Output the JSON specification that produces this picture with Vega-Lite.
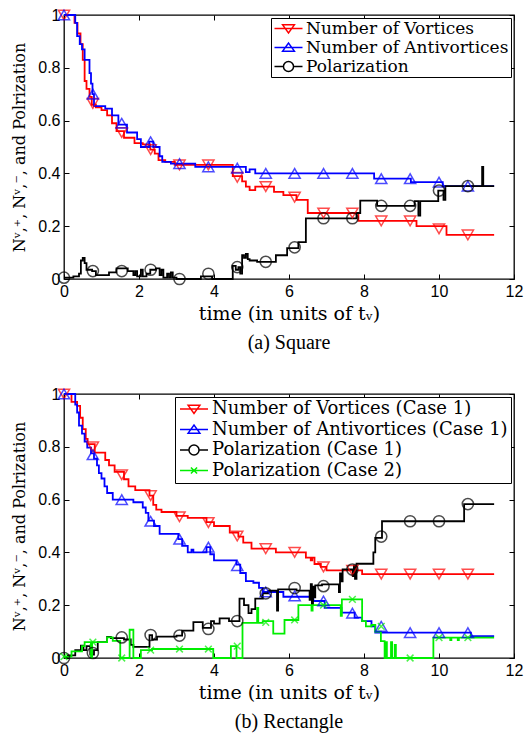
{
"$schema": "https://vega.github.io/schema/vega-lite/v6.json",
"padding": {"left": 11, "top": 6, "right": 3, "bottom": 2},
"config": {
  "view": {"stroke": "black", "strokeWidth": 1.3},
  "axis": {"grid": false, "domain": false, "tickColor": "black", "tickWidth": 1, "tickSize": -5, "labelColor": "black", "labelFont": "Liberation Sans", "labelFontSize": 16, "labelPadding": 9, "labelFlush": false, "labelOverlap": false, "labelBound": false, "titleFont": "DejaVu Serif", "titleFontSize": 16, "titleFontWeight": "normal", "titleColor": "black"},
  "legend": {"title": null, "orient": "top-right", "offset": 3, "labelFont": "DejaVu Serif", "labelFontSize": 18, "labelColor": "black", "symbolSize": 196, "symbolStrokeWidth": 1.5, "strokeColor": "black", "fillColor": "white", "padding": 3, "labelLimit": 500, "labelOffset": 16, "cornerRadius": 0},
  "title": {"font": "Liberation Serif", "fontSize": 20, "fontWeight": "normal", "color": "black"},
  "point": {"filled": false, "strokeWidth": 1.5, "size": 125}
},
"datasets": {
  "topLines": [
    {"s":"Number of Vortices","t":0,"v":1.0},{"s":"Number of Vortices","t":0.28,"v":0.97},{"s":"Number of Vortices","t":0.36,"v":0.93},{"s":"Number of Vortices","t":0.44,"v":0.89},{"s":"Number of Vortices","t":0.5,"v":0.83},{"s":"Number of Vortices","t":0.55,"v":0.75},{"s":"Number of Vortices","t":0.6,"v":0.72},{"s":"Number of Vortices","t":0.68,"v":0.69},{"s":"Number of Vortices","t":0.74,"v":0.66},{"s":"Number of Vortices","t":0.85,"v":0.65},{"s":"Number of Vortices","t":1.0,"v":0.64},{"s":"Number of Vortices","t":1.15,"v":0.62},{"s":"Number of Vortices","t":1.28,"v":0.59},{"s":"Number of Vortices","t":1.4,"v":0.56},{"s":"Number of Vortices","t":1.6,"v":0.535},{"s":"Number of Vortices","t":1.88,"v":0.515},{"s":"Number of Vortices","t":2.1,"v":0.51},{"s":"Number of Vortices","t":2.3,"v":0.49},{"s":"Number of Vortices","t":2.42,"v":0.475},{"s":"Number of Vortices","t":2.52,"v":0.45},{"s":"Number of Vortices","t":2.7,"v":0.444},{"s":"Number of Vortices","t":2.95,"v":0.432},{"s":"Number of Vortices","t":4.5,"v":0.39},{"s":"Number of Vortices","t":4.75,"v":0.37},{"s":"Number of Vortices","t":4.85,"v":0.35},{"s":"Number of Vortices","t":4.95,"v":0.337},{"s":"Number of Vortices","t":5.1,"v":0.35},{"s":"Number of Vortices","t":5.6,"v":0.33},{"s":"Number of Vortices","t":5.85,"v":0.318},{"s":"Number of Vortices","t":6.2,"v":0.3},{"s":"Number of Vortices","t":6.5,"v":0.25},{"s":"Number of Vortices","t":7.85,"v":0.22},{"s":"Number of Vortices","t":9.4,"v":0.2},{"s":"Number of Vortices","t":10.2,"v":0.167},{"s":"Number of Vortices","t":11.47,"v":0.167},
    {"s":"Number of Antivortices","t":0,"v":1.0},{"s":"Number of Antivortices","t":0.3,"v":0.97},{"s":"Number of Antivortices","t":0.35,"v":0.92},{"s":"Number of Antivortices","t":0.42,"v":0.89},{"s":"Number of Antivortices","t":0.48,"v":0.87},{"s":"Number of Antivortices","t":0.55,"v":0.83},{"s":"Number of Antivortices","t":0.68,"v":0.78},{"s":"Number of Antivortices","t":0.72,"v":0.74},{"s":"Number of Antivortices","t":0.76,"v":0.7},{"s":"Number of Antivortices","t":0.8,"v":0.655},{"s":"Number of Antivortices","t":1.1,"v":0.645},{"s":"Number of Antivortices","t":1.28,"v":0.62},{"s":"Number of Antivortices","t":1.45,"v":0.585},{"s":"Number of Antivortices","t":1.68,"v":0.555},{"s":"Number of Antivortices","t":1.95,"v":0.53},{"s":"Number of Antivortices","t":2.05,"v":0.5},{"s":"Number of Antivortices","t":2.27,"v":0.52},{"s":"Number of Antivortices","t":2.38,"v":0.5},{"s":"Number of Antivortices","t":2.55,"v":0.465},{"s":"Number of Antivortices","t":2.62,"v":0.444},{"s":"Number of Antivortices","t":2.85,"v":0.437},{"s":"Number of Antivortices","t":3.5,"v":0.425},{"s":"Number of Antivortices","t":4.85,"v":0.405},{"s":"Number of Antivortices","t":4.95,"v":0.415},{"s":"Number of Antivortices","t":5.1,"v":0.4},{"s":"Number of Antivortices","t":8.27,"v":0.38},{"s":"Number of Antivortices","t":9.25,"v":0.367},{"s":"Number of Antivortices","t":10.1,"v":0.352},{"s":"Number of Antivortices","t":11.47,"v":0.352},
    {"s":"Polarization","t":0,"v":0.005},{"s":"Polarization","t":0.25,"v":0.01},{"s":"Polarization","t":0.4,"v":0.02},{"s":"Polarization","t":0.45,"v":0.07},{"s":"Polarization","t":0.5,"v":0.08},{"s":"Polarization","t":0.55,"v":0.06},{"s":"Polarization","t":0.6,"v":0.035},{"s":"Polarization","t":0.75,"v":0.03},{"s":"Polarization","t":0.85,"v":0.015},{"s":"Polarization","t":1.2,"v":0.025},{"s":"Polarization","t":1.4,"v":0.04},{"s":"Polarization","t":1.7,"v":0.03},{"s":"Polarization","t":1.85,"v":0.015},{"s":"Polarization","t":1.9,"v":0.03},{"s":"Polarization","t":1.95,"v":0.01},{"s":"Polarization","t":2.05,"v":0.035},{"s":"Polarization","t":2.1,"v":0.01},{"s":"Polarization","t":2.2,"v":0.02},{"s":"Polarization","t":2.3,"v":0.035},{"s":"Polarization","t":2.45,"v":0.04},{"s":"Polarization","t":2.55,"v":0.015},{"s":"Polarization","t":2.6,"v":0.035},{"s":"Polarization","t":2.65,"v":0.005},{"s":"Polarization","t":2.75,"v":0.02},{"s":"Polarization","t":2.8,"v":0.005},{"s":"Polarization","t":2.85,"v":0.025},{"s":"Polarization","t":2.9,"v":0.005},{"s":"Polarization","t":3.0,"v":0.0},{"s":"Polarization","t":3.65,"v":0.01},{"s":"Polarization","t":3.95,"v":0.0},{"s":"Polarization","t":4.5,"v":0.05},{"s":"Polarization","t":4.58,"v":0.035},{"s":"Polarization","t":4.65,"v":0.045},{"s":"Polarization","t":4.7,"v":0.02},{"s":"Polarization","t":4.75,"v":0.09},{"s":"Polarization","t":4.8,"v":0.08},{"s":"Polarization","t":4.85,"v":0.095},{"s":"Polarization","t":4.9,"v":0.075},{"s":"Polarization","t":4.95,"v":0.07},{"s":"Polarization","t":5.15,"v":0.065},{"s":"Polarization","t":5.65,"v":0.09},{"s":"Polarization","t":5.95,"v":0.117},{"s":"Polarization","t":6.25,"v":0.14},{"s":"Polarization","t":6.45,"v":0.23},{"s":"Polarization","t":7.8,"v":0.25},{"s":"Polarization","t":7.9,"v":0.297},{"s":"Polarization","t":8.35,"v":0.277},{"s":"Polarization","t":9.35,"v":0.295},{"s":"Polarization","t":9.45,"v":0.24},{"s":"Polarization","t":9.5,"v":0.295},{"s":"Polarization","t":9.98,"v":0.335},{"s":"Polarization","t":10.12,"v":0.3},{"s":"Polarization","t":10.17,"v":0.352},{"s":"Polarization","t":11.15,"v":0.425},{"s":"Polarization","t":11.18,"v":0.352},{"s":"Polarization","t":11.47,"v":0.352}
  ],
  "topMarkers": [
    {"series":"Number of Vortices","t":0,"v":1.0},{"series":"Number of Vortices","t":0.77,"v":0.665},{"series":"Number of Vortices","t":1.54,"v":0.555},{"series":"Number of Vortices","t":2.31,"v":0.49},{"series":"Number of Vortices","t":3.08,"v":0.432},{"series":"Number of Vortices","t":3.85,"v":0.432},{"series":"Number of Vortices","t":4.62,"v":0.385},{"series":"Number of Vortices","t":5.38,"v":0.35},{"series":"Number of Vortices","t":6.15,"v":0.31},{"series":"Number of Vortices","t":6.92,"v":0.25},{"series":"Number of Vortices","t":7.69,"v":0.25},{"series":"Number of Vortices","t":8.46,"v":0.22},{"series":"Number of Vortices","t":9.23,"v":0.22},{"series":"Number of Vortices","t":10.0,"v":0.19},{"series":"Number of Vortices","t":10.77,"v":0.167},
    {"series":"Number of Antivortices","t":0,"v":1.0},{"series":"Number of Antivortices","t":0.77,"v":0.7},{"series":"Number of Antivortices","t":1.54,"v":0.59},{"series":"Number of Antivortices","t":2.31,"v":0.52},{"series":"Number of Antivortices","t":3.08,"v":0.437},{"series":"Number of Antivortices","t":3.85,"v":0.425},{"series":"Number of Antivortices","t":4.62,"v":0.42},{"series":"Number of Antivortices","t":5.38,"v":0.4},{"series":"Number of Antivortices","t":6.15,"v":0.4},{"series":"Number of Antivortices","t":6.92,"v":0.4},{"series":"Number of Antivortices","t":7.69,"v":0.4},{"series":"Number of Antivortices","t":8.46,"v":0.38},{"series":"Number of Antivortices","t":9.23,"v":0.38},{"series":"Number of Antivortices","t":10.0,"v":0.367},{"series":"Number of Antivortices","t":10.77,"v":0.352},
    {"series":"Polarization","t":0,"v":0.005},{"series":"Polarization","t":0.77,"v":0.03},{"series":"Polarization","t":1.54,"v":0.03},{"series":"Polarization","t":2.31,"v":0.035},{"series":"Polarization","t":3.08,"v":0.0},{"series":"Polarization","t":3.85,"v":0.02},{"series":"Polarization","t":4.62,"v":0.045},{"series":"Polarization","t":5.38,"v":0.065},{"series":"Polarization","t":6.15,"v":0.12},{"series":"Polarization","t":6.92,"v":0.23},{"series":"Polarization","t":7.69,"v":0.23},{"series":"Polarization","t":8.46,"v":0.277},{"series":"Polarization","t":9.23,"v":0.277},{"series":"Polarization","t":10.0,"v":0.335},{"series":"Polarization","t":10.77,"v":0.352}
  ],
  "botLines": [
    {"s":"Number of Vortices (Case 1)","t":0,"v":1.0},{"s":"Number of Vortices (Case 1)","t":0.2,"v":0.97},{"s":"Number of Vortices (Case 1)","t":0.35,"v":0.955},{"s":"Number of Vortices (Case 1)","t":0.43,"v":0.91},{"s":"Number of Vortices (Case 1)","t":0.5,"v":0.867},{"s":"Number of Vortices (Case 1)","t":0.58,"v":0.83},{"s":"Number of Vortices (Case 1)","t":0.63,"v":0.81},{"s":"Number of Vortices (Case 1)","t":0.82,"v":0.778},{"s":"Number of Vortices (Case 1)","t":1.1,"v":0.75},{"s":"Number of Vortices (Case 1)","t":1.2,"v":0.73},{"s":"Number of Vortices (Case 1)","t":1.35,"v":0.705},{"s":"Number of Vortices (Case 1)","t":1.6,"v":0.677},{"s":"Number of Vortices (Case 1)","t":1.72,"v":0.65},{"s":"Number of Vortices (Case 1)","t":1.9,"v":0.636},{"s":"Number of Vortices (Case 1)","t":2.28,"v":0.615},{"s":"Number of Vortices (Case 1)","t":2.38,"v":0.58},{"s":"Number of Vortices (Case 1)","t":2.46,"v":0.562},{"s":"Number of Vortices (Case 1)","t":2.6,"v":0.553},{"s":"Number of Vortices (Case 1)","t":3.0,"v":0.538},{"s":"Number of Vortices (Case 1)","t":3.3,"v":0.531},{"s":"Number of Vortices (Case 1)","t":3.8,"v":0.515},{"s":"Number of Vortices (Case 1)","t":4.0,"v":0.5},{"s":"Number of Vortices (Case 1)","t":4.42,"v":0.475},{"s":"Number of Vortices (Case 1)","t":4.65,"v":0.46},{"s":"Number of Vortices (Case 1)","t":4.78,"v":0.437},{"s":"Number of Vortices (Case 1)","t":5.0,"v":0.414},{"s":"Number of Vortices (Case 1)","t":5.65,"v":0.4},{"s":"Number of Vortices (Case 1)","t":6.45,"v":0.38},{"s":"Number of Vortices (Case 1)","t":6.58,"v":0.37},{"s":"Number of Vortices (Case 1)","t":6.62,"v":0.38},{"s":"Number of Vortices (Case 1)","t":6.68,"v":0.356},{"s":"Number of Vortices (Case 1)","t":6.85,"v":0.345},{"s":"Number of Vortices (Case 1)","t":7.0,"v":0.332},{"s":"Number of Vortices (Case 1)","t":7.95,"v":0.318},{"s":"Number of Vortices (Case 1)","t":11.47,"v":0.318},
    {"s":"Number of Antivortices (Case 1)","t":0,"v":1.0},{"s":"Number of Antivortices (Case 1)","t":0.3,"v":0.96},{"s":"Number of Antivortices (Case 1)","t":0.35,"v":0.93},{"s":"Number of Antivortices (Case 1)","t":0.4,"v":0.88},{"s":"Number of Antivortices (Case 1)","t":0.48,"v":0.85},{"s":"Number of Antivortices (Case 1)","t":0.55,"v":0.82},{"s":"Number of Antivortices (Case 1)","t":0.62,"v":0.797},{"s":"Number of Antivortices (Case 1)","t":0.72,"v":0.775},{"s":"Number of Antivortices (Case 1)","t":0.8,"v":0.755},{"s":"Number of Antivortices (Case 1)","t":0.88,"v":0.73},{"s":"Number of Antivortices (Case 1)","t":0.93,"v":0.7},{"s":"Number of Antivortices (Case 1)","t":1.0,"v":0.68},{"s":"Number of Antivortices (Case 1)","t":1.08,"v":0.65},{"s":"Number of Antivortices (Case 1)","t":1.15,"v":0.625},{"s":"Number of Antivortices (Case 1)","t":1.3,"v":0.6},{"s":"Number of Antivortices (Case 1)","t":1.85,"v":0.59},{"s":"Number of Antivortices (Case 1)","t":2.1,"v":0.57},{"s":"Number of Antivortices (Case 1)","t":2.18,"v":0.55},{"s":"Number of Antivortices (Case 1)","t":2.25,"v":0.52},{"s":"Number of Antivortices (Case 1)","t":2.4,"v":0.5},{"s":"Number of Antivortices (Case 1)","t":2.55,"v":0.47},{"s":"Number of Antivortices (Case 1)","t":3.05,"v":0.45},{"s":"Number of Antivortices (Case 1)","t":3.15,"v":0.425},{"s":"Number of Antivortices (Case 1)","t":3.3,"v":0.4},{"s":"Number of Antivortices (Case 1)","t":3.4,"v":0.41},{"s":"Number of Antivortices (Case 1)","t":3.45,"v":0.4},{"s":"Number of Antivortices (Case 1)","t":3.8,"v":0.42},{"s":"Number of Antivortices (Case 1)","t":3.9,"v":0.393},{"s":"Number of Antivortices (Case 1)","t":4.0,"v":0.37},{"s":"Number of Antivortices (Case 1)","t":4.6,"v":0.354},{"s":"Number of Antivortices (Case 1)","t":4.7,"v":0.322},{"s":"Number of Antivortices (Case 1)","t":4.85,"v":0.291},{"s":"Number of Antivortices (Case 1)","t":5.05,"v":0.285},{"s":"Number of Antivortices (Case 1)","t":5.2,"v":0.266},{"s":"Number of Antivortices (Case 1)","t":5.3,"v":0.25},{"s":"Number of Antivortices (Case 1)","t":5.85,"v":0.232},{"s":"Number of Antivortices (Case 1)","t":6.65,"v":0.216},{"s":"Number of Antivortices (Case 1)","t":6.95,"v":0.19},{"s":"Number of Antivortices (Case 1)","t":7.4,"v":0.172},{"s":"Number of Antivortices (Case 1)","t":7.75,"v":0.153},{"s":"Number of Antivortices (Case 1)","t":7.95,"v":0.14},{"s":"Number of Antivortices (Case 1)","t":8.2,"v":0.12},{"s":"Number of Antivortices (Case 1)","t":8.3,"v":0.096},{"s":"Number of Antivortices (Case 1)","t":10.85,"v":0.083},{"s":"Number of Antivortices (Case 1)","t":11.47,"v":0.083},
    {"s":"Polarization (Case 1)","t":0,"v":0.0},{"s":"Polarization (Case 1)","t":0.1,"v":0.01},{"s":"Polarization (Case 1)","t":0.3,"v":0.03},{"s":"Polarization (Case 1)","t":0.45,"v":0.047},{"s":"Polarization (Case 1)","t":0.52,"v":0.03},{"s":"Polarization (Case 1)","t":0.6,"v":0.045},{"s":"Polarization (Case 1)","t":0.7,"v":0.013},{"s":"Polarization (Case 1)","t":0.8,"v":0.03},{"s":"Polarization (Case 1)","t":0.9,"v":0.06},{"s":"Polarization (Case 1)","t":1.15,"v":0.08},{"s":"Polarization (Case 1)","t":1.25,"v":0.075},{"s":"Polarization (Case 1)","t":1.6,"v":0.07},{"s":"Polarization (Case 1)","t":1.78,"v":0.05},{"s":"Polarization (Case 1)","t":1.85,"v":0.042},{"s":"Polarization (Case 1)","t":2.28,"v":0.087},{"s":"Polarization (Case 1)","t":2.35,"v":0.07},{"s":"Polarization (Case 1)","t":2.48,"v":0.081},{"s":"Polarization (Case 1)","t":3.0,"v":0.085},{"s":"Polarization (Case 1)","t":3.15,"v":0.104},{"s":"Polarization (Case 1)","t":3.45,"v":0.136},{"s":"Polarization (Case 1)","t":3.7,"v":0.114},{"s":"Polarization (Case 1)","t":3.92,"v":0.14},{"s":"Polarization (Case 1)","t":4.0,"v":0.13},{"s":"Polarization (Case 1)","t":4.15,"v":0.15},{"s":"Polarization (Case 1)","t":4.4,"v":0.14},{"s":"Polarization (Case 1)","t":4.68,"v":0.225},{"s":"Polarization (Case 1)","t":4.8,"v":0.2},{"s":"Polarization (Case 1)","t":4.92,"v":0.17},{"s":"Polarization (Case 1)","t":5.0,"v":0.185},{"s":"Polarization (Case 1)","t":5.1,"v":0.225},{"s":"Polarization (Case 1)","t":5.3,"v":0.245},{"s":"Polarization (Case 1)","t":5.45,"v":0.255},{"s":"Polarization (Case 1)","t":5.68,"v":0.18},{"s":"Polarization (Case 1)","t":5.71,"v":0.26},{"s":"Polarization (Case 1)","t":6.2,"v":0.255},{"s":"Polarization (Case 1)","t":6.55,"v":0.22},{"s":"Polarization (Case 1)","t":6.58,"v":0.28},{"s":"Polarization (Case 1)","t":6.61,"v":0.2},{"s":"Polarization (Case 1)","t":6.64,"v":0.27},{"s":"Polarization (Case 1)","t":6.67,"v":0.23},{"s":"Polarization (Case 1)","t":6.7,"v":0.275},{"s":"Polarization (Case 1)","t":6.88,"v":0.279},{"s":"Polarization (Case 1)","t":7.33,"v":0.25},{"s":"Polarization (Case 1)","t":7.36,"v":0.32},{"s":"Polarization (Case 1)","t":7.39,"v":0.29},{"s":"Polarization (Case 1)","t":7.43,"v":0.336},{"s":"Polarization (Case 1)","t":7.7,"v":0.31},{"s":"Polarization (Case 1)","t":7.73,"v":0.35},{"s":"Polarization (Case 1)","t":7.76,"v":0.3},{"s":"Polarization (Case 1)","t":7.8,"v":0.357},{"s":"Polarization (Case 1)","t":8.25,"v":0.4},{"s":"Polarization (Case 1)","t":8.3,"v":0.455},{"s":"Polarization (Case 1)","t":8.48,"v":0.518},{"s":"Polarization (Case 1)","t":10.67,"v":0.583},{"s":"Polarization (Case 1)","t":11.47,"v":0.583},
    {"s":"Polarization (Case 2)","t":0,"v":0.005},{"s":"Polarization (Case 2)","t":0.2,"v":0.025},{"s":"Polarization (Case 2)","t":0.48,"v":0.045},{"s":"Polarization (Case 2)","t":0.55,"v":0.06},{"s":"Polarization (Case 2)","t":0.72,"v":0.0},{"s":"Polarization (Case 2)","t":0.75,"v":0.06},{"s":"Polarization (Case 2)","t":1.15,"v":0.078},{"s":"Polarization (Case 2)","t":1.3,"v":0.065},{"s":"Polarization (Case 2)","t":1.5,"v":0.0},{"s":"Polarization (Case 2)","t":1.75,"v":0.107},{"s":"Polarization (Case 2)","t":1.85,"v":0.0},{"s":"Polarization (Case 2)","t":2.05,"v":0.03},{"s":"Polarization (Case 2)","t":2.35,"v":0.034},{"s":"Polarization (Case 2)","t":3.98,"v":0.0},{"s":"Polarization (Case 2)","t":4.45,"v":0.045},{"s":"Polarization (Case 2)","t":4.6,"v":0.0},{"s":"Polarization (Case 2)","t":4.76,"v":0.133},{"s":"Polarization (Case 2)","t":5.15,"v":0.19},{"s":"Polarization (Case 2)","t":5.18,"v":0.133},{"s":"Polarization (Case 2)","t":5.3,"v":0.14},{"s":"Polarization (Case 2)","t":5.58,"v":0.092},{"s":"Polarization (Case 2)","t":5.88,"v":0.144},{"s":"Polarization (Case 2)","t":6.25,"v":0.2},{"s":"Polarization (Case 2)","t":6.6,"v":0.18},{"s":"Polarization (Case 2)","t":6.63,"v":0.2},{"s":"Polarization (Case 2)","t":7.38,"v":0.16},{"s":"Polarization (Case 2)","t":7.41,"v":0.222},{"s":"Polarization (Case 2)","t":7.95,"v":0.14},{"s":"Polarization (Case 2)","t":8.05,"v":0.12},{"s":"Polarization (Case 2)","t":8.2,"v":0.125},{"s":"Polarization (Case 2)","t":8.3,"v":0.1},{"s":"Polarization (Case 2)","t":8.45,"v":0.064},{"s":"Polarization (Case 2)","t":8.55,"v":0.0},{"s":"Polarization (Case 2)","t":8.58,"v":0.06},{"s":"Polarization (Case 2)","t":8.61,"v":0.0},{"s":"Polarization (Case 2)","t":8.72,"v":0.06},{"s":"Polarization (Case 2)","t":8.75,"v":0.0},{"s":"Polarization (Case 2)","t":8.82,"v":0.05},{"s":"Polarization (Case 2)","t":8.85,"v":0.0},{"s":"Polarization (Case 2)","t":9.85,"v":0.077},{"s":"Polarization (Case 2)","t":10.3,"v":0.068},{"s":"Polarization (Case 2)","t":10.33,"v":0.077},{"s":"Polarization (Case 2)","t":10.5,"v":0.068},{"s":"Polarization (Case 2)","t":10.53,"v":0.077},{"s":"Polarization (Case 2)","t":11.47,"v":0.077}
  ],
  "botMarkers": [
    {"series":"Number of Vortices (Case 1)","t":0,"v":1.0},{"series":"Number of Vortices (Case 1)","t":0.77,"v":0.8},{"series":"Number of Vortices (Case 1)","t":1.54,"v":0.694},{"series":"Number of Vortices (Case 1)","t":2.31,"v":0.615},{"series":"Number of Vortices (Case 1)","t":3.08,"v":0.535},{"series":"Number of Vortices (Case 1)","t":3.85,"v":0.513},{"series":"Number of Vortices (Case 1)","t":4.62,"v":0.462},{"series":"Number of Vortices (Case 1)","t":5.38,"v":0.414},{"series":"Number of Vortices (Case 1)","t":6.15,"v":0.4},{"series":"Number of Vortices (Case 1)","t":6.92,"v":0.345},{"series":"Number of Vortices (Case 1)","t":7.69,"v":0.332},{"series":"Number of Vortices (Case 1)","t":8.46,"v":0.318},{"series":"Number of Vortices (Case 1)","t":9.23,"v":0.318},{"series":"Number of Vortices (Case 1)","t":10.0,"v":0.318},{"series":"Number of Vortices (Case 1)","t":10.77,"v":0.318},
    {"series":"Number of Antivortices (Case 1)","t":0,"v":1.0},{"series":"Number of Antivortices (Case 1)","t":0.77,"v":0.77},{"series":"Number of Antivortices (Case 1)","t":1.54,"v":0.6},{"series":"Number of Antivortices (Case 1)","t":2.31,"v":0.518},{"series":"Number of Antivortices (Case 1)","t":3.08,"v":0.45},{"series":"Number of Antivortices (Case 1)","t":3.85,"v":0.42},{"series":"Number of Antivortices (Case 1)","t":4.62,"v":0.35},{"series":"Number of Antivortices (Case 1)","t":5.38,"v":0.25},{"series":"Number of Antivortices (Case 1)","t":6.15,"v":0.235},{"series":"Number of Antivortices (Case 1)","t":6.92,"v":0.216},{"series":"Number of Antivortices (Case 1)","t":7.69,"v":0.17},{"series":"Number of Antivortices (Case 1)","t":8.46,"v":0.12},{"series":"Number of Antivortices (Case 1)","t":9.23,"v":0.096},{"series":"Number of Antivortices (Case 1)","t":10.0,"v":0.096},{"series":"Number of Antivortices (Case 1)","t":10.77,"v":0.096},
    {"series":"Polarization (Case 1)","t":0,"v":0.0},{"series":"Polarization (Case 1)","t":0.77,"v":0.019},{"series":"Polarization (Case 1)","t":1.54,"v":0.078},{"series":"Polarization (Case 1)","t":2.31,"v":0.087},{"series":"Polarization (Case 1)","t":3.08,"v":0.085},{"series":"Polarization (Case 1)","t":3.85,"v":0.11},{"series":"Polarization (Case 1)","t":4.62,"v":0.14},{"series":"Polarization (Case 1)","t":5.38,"v":0.245},{"series":"Polarization (Case 1)","t":6.15,"v":0.265},{"series":"Polarization (Case 1)","t":6.92,"v":0.272},{"series":"Polarization (Case 1)","t":7.69,"v":0.335},{"series":"Polarization (Case 1)","t":8.46,"v":0.46},{"series":"Polarization (Case 1)","t":9.23,"v":0.518},{"series":"Polarization (Case 1)","t":10.0,"v":0.518},{"series":"Polarization (Case 1)","t":10.77,"v":0.583},
    {"series":"Polarization (Case 2)","t":0,"v":0.005},{"series":"Polarization (Case 2)","t":0.77,"v":0.06},{"series":"Polarization (Case 2)","t":1.54,"v":0.0},{"series":"Polarization (Case 2)","t":2.31,"v":0.03},{"series":"Polarization (Case 2)","t":3.08,"v":0.034},{"series":"Polarization (Case 2)","t":3.85,"v":0.034},{"series":"Polarization (Case 2)","t":4.62,"v":0.045},{"series":"Polarization (Case 2)","t":5.38,"v":0.135},{"series":"Polarization (Case 2)","t":6.15,"v":0.144},{"series":"Polarization (Case 2)","t":6.92,"v":0.2},{"series":"Polarization (Case 2)","t":7.69,"v":0.222},{"series":"Polarization (Case 2)","t":8.46,"v":0.12},{"series":"Polarization (Case 2)","t":9.23,"v":0.0},{"series":"Polarization (Case 2)","t":10.0,"v":0.077},{"series":"Polarization (Case 2)","t":10.77,"v":0.077}
  ]
},
"spacing": 31,
"resolve": {"scale": {"color": "independent", "x": "independent", "y": "independent"}, "legend": {"color": "independent"}},
"vconcat": [
  {
    "width": 450, "height": 264,
    "title": {"text": "(a) Square", "orient": "bottom", "offset": 10},
    "resolve": {"axis": {"x": "independent", "y": "independent"}},
    "layer": [
      {
        "data": {"name": "topLines"},
        "mark": {"type": "line", "interpolate": "step-after", "strokeWidth": 1.8},
        "encoding": {
          "x": {"field": "t", "type": "quantitative", "scale": {"domain": [0, 12], "nice": false}, "axis": {"orient": "bottom", "values": [0,2,4,6,8,10,12], "title": "time (in units of tᵥ)", "titleFontSize": 19, "titlePadding": 5}},
          "y": {"field": "v", "type": "quantitative", "scale": {"domain": [0, 1], "nice": false}, "axis": {"orient": "left", "values": [0,0.2,0.4,0.6,0.8,1], "format": "~g", "title": "Nᵛ,⁺, Nᵛ,⁻, and Polrization", "titlePadding": 10}},
          "color": {"field": "s", "type": "nominal", "scale": {"domain": ["Number of Vortices", "Number of Antivortices", "Polarization"], "range": ["#ff0000", "#0000ff", "#000000"]},
            "legend": {"rowPadding": 1, "padding": 2, "labelFontSize": 17, "labelFont": "DejaVu Serif", "encode": {"symbols": {"update": {"fill": {"value": "transparent"}, "shape": {"signal": "datum.value == 'Number of Vortices' ? 'M-1,0H3M0.16,-0.52L1.84,-0.52L1,0.64Z' : datum.value == 'Number of Antivortices' ? 'M-1,0H3M0.16,0.52L1.84,0.52L1,-0.64Z' : 'M-1,0H0.28M1.72,0H3M1.72,0A0.72,0.72 0 1,1 0.28,0A0.72,0.72 0 1,1 1.72,0Z'"}}}}}}
        }
      },
      {
        "data": {"name": "topMarkers"},
        "transform": [{"filter": "datum.series == 'Number of Vortices'"}],
        "mark": {"type": "point", "shape": "triangle-down", "color": "#ff0000"},
        "encoding": {
          "x": {"field": "t", "type": "quantitative", "axis": {"orient": "top", "values": [0,2,4,6,8,10,12], "labels": false, "title": null}},
          "y": {"field": "v", "type": "quantitative", "axis": {"orient": "right", "values": [0,0.2,0.4,0.6,0.8,1], "labels": false, "title": null}}
        }
      },
      {
        "data": {"name": "topMarkers"},
        "transform": [{"filter": "datum.series == 'Number of Antivortices'"}],
        "mark": {"type": "point", "shape": "triangle-up", "color": "#0000ff"},
        "encoding": {
          "x": {"field": "t", "type": "quantitative", "axis": null},
          "y": {"field": "v", "type": "quantitative", "axis": null}
        }
      },
      {
        "data": {"name": "topMarkers"},
        "transform": [{"filter": "datum.series == 'Polarization'"}],
        "mark": {"type": "point", "shape": "circle", "color": "#000000"},
        "encoding": {
          "x": {"field": "t", "type": "quantitative", "axis": null},
          "y": {"field": "v", "type": "quantitative", "axis": null}
        }
      }
    ]
  },
  {
    "width": 450, "height": 264,
    "title": {"text": "(b) Rectangle", "orient": "bottom", "offset": 10},
    "resolve": {"axis": {"x": "independent", "y": "independent"}},
    "layer": [
      {
        "data": {"name": "botLines"},
        "mark": {"type": "line", "interpolate": "step-after", "strokeWidth": 1.8},
        "encoding": {
          "x": {"field": "t", "type": "quantitative", "scale": {"domain": [0, 12], "nice": false}, "axis": {"orient": "bottom", "values": [0,2,4,6,8,10,12], "title": "time (in units of tᵥ)", "titleFontSize": 19, "titlePadding": 5}},
          "y": {"field": "v", "type": "quantitative", "scale": {"domain": [0, 1], "nice": false}, "axis": {"orient": "left", "values": [0,0.2,0.4,0.6,0.8,1], "format": "~g", "title": "Nᵛ,⁺, Nᵛ,⁻, and Polrization", "titlePadding": 10}},
          "color": {"field": "s", "type": "nominal", "scale": {"domain": ["Number of Vortices (Case 1)", "Number of Antivortices (Case 1)", "Polarization (Case 1)", "Polarization (Case 2)"], "range": ["#ff0000", "#0000ff", "#000000", "#00ee00"]},
            "legend": {"rowPadding": 2.5, "labelFont": "DejaVu Serif", "encode": {"symbols": {"update": {"fill": {"value": "transparent"}, "shape": {"signal": "datum.value == 'Number of Vortices (Case 1)' ? 'M-1,0H3M0.16,-0.52L1.84,-0.52L1,0.64Z' : datum.value == 'Number of Antivortices (Case 1)' ? 'M-1,0H3M0.16,0.52L1.84,0.52L1,-0.64Z' : datum.value == 'Polarization (Case 1)' ? 'M-1,0H0.28M1.72,0H3M1.72,0A0.72,0.72 0 1,1 0.28,0A0.72,0.72 0 1,1 1.72,0Z' : 'M-1,0H3M0.56,-0.44L1.44,0.44M1.44,-0.44L0.56,0.44'"}}}}}}
        }
      },
      {
        "data": {"name": "botMarkers"},
        "transform": [{"filter": "datum.series == 'Number of Vortices (Case 1)'"}],
        "mark": {"type": "point", "shape": "triangle-down", "color": "#ff0000"},
        "encoding": {
          "x": {"field": "t", "type": "quantitative", "axis": {"orient": "top", "values": [0,2,4,6,8,10,12], "labels": false, "title": null}},
          "y": {"field": "v", "type": "quantitative", "axis": {"orient": "right", "values": [0,0.2,0.4,0.6,0.8,1], "labels": false, "title": null}}
        }
      },
      {
        "data": {"name": "botMarkers"},
        "transform": [{"filter": "datum.series == 'Number of Antivortices (Case 1)'"}],
        "mark": {"type": "point", "shape": "triangle-up", "color": "#0000ff"},
        "encoding": {
          "x": {"field": "t", "type": "quantitative", "axis": null},
          "y": {"field": "v", "type": "quantitative", "axis": null}
        }
      },
      {
        "data": {"name": "botMarkers"},
        "transform": [{"filter": "datum.series == 'Polarization (Case 1)'"}],
        "mark": {"type": "point", "shape": "circle", "color": "#000000"},
        "encoding": {
          "x": {"field": "t", "type": "quantitative", "axis": null},
          "y": {"field": "v", "type": "quantitative", "axis": null}
        }
      },
      {
        "data": {"name": "botMarkers"},
        "transform": [{"filter": "datum.series == 'Polarization (Case 2)'"}],
        "mark": {"type": "point", "shape": "M-0.6,-0.6L0.6,0.6M0.6,-0.6L-0.6,0.6", "color": "#00ee00"},
        "encoding": {
          "x": {"field": "t", "type": "quantitative", "axis": null},
          "y": {"field": "v", "type": "quantitative", "axis": null}
        }
      }
    ]
  }
]
}
